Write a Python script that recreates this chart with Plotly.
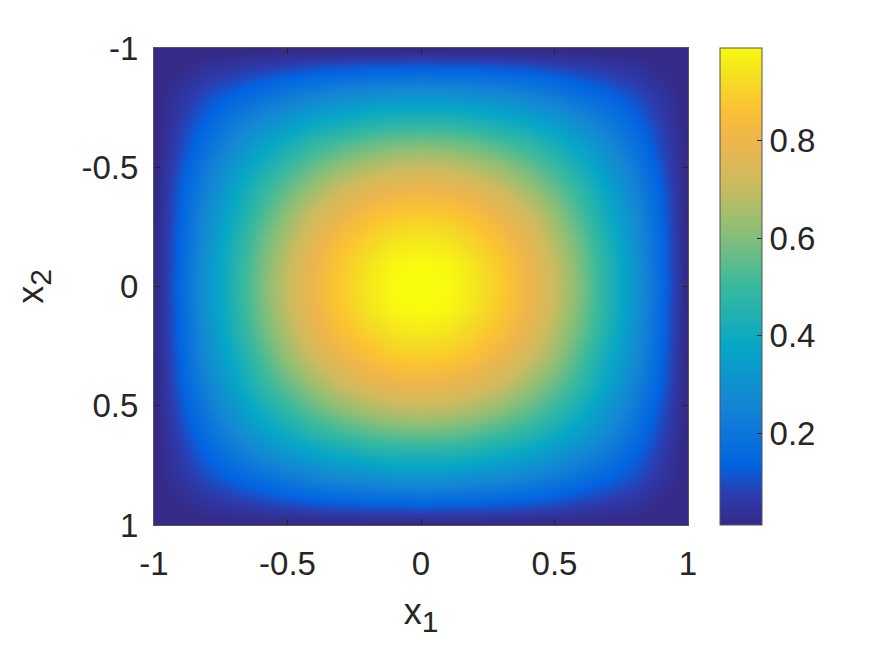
import plotly.graph_objects as go

x1_vals = [-1.0, -0.9, -0.8, -0.7, -0.6, -0.5, -0.4, -0.3, -0.2, -0.1, 0.0,
           0.1, 0.2, 0.3, 0.4, 0.5, 0.6, 0.7, 0.8, 0.9, 1.0]
x2_vals = [-1.0, -0.9, -0.8, -0.7, -0.6, -0.5, -0.4, -0.3, -0.2, -0.1, 0.0,
           0.1, 0.2, 0.3, 0.4, 0.5, 0.6, 0.7, 0.8, 0.9, 1.0]

# values (rows: x2, columns: x1)
z_vals = [
    [0,0,0,0,0,0,0,0,0,0,0,0,0,0,0,0,0,0,0,0,0],
    [0,0.02,0.05,0.07,0.09,0.11,0.13,0.14,0.15,0.15,0.16,0.15,0.15,0.14,0.13,0.11,0.09,0.07,0.05,0.02,0],
    [0,0.05,0.10,0.14,0.18,0.22,0.25,0.28,0.29,0.31,0.31,0.31,0.29,0.28,0.25,0.22,0.18,0.14,0.10,0.05,0],
    [0,0.07,0.14,0.21,0.27,0.32,0.37,0.40,0.43,0.45,0.45,0.45,0.43,0.40,0.37,0.32,0.27,0.21,0.14,0.07,0],
    [0,0.09,0.18,0.27,0.35,0.42,0.48,0.52,0.56,0.58,0.59,0.58,0.56,0.52,0.48,0.42,0.35,0.27,0.18,0.09,0],
    [0,0.11,0.22,0.32,0.42,0.50,0.57,0.63,0.67,0.70,0.71,0.70,0.67,0.63,0.57,0.50,0.42,0.32,0.22,0.11,0],
    [0,0.13,0.25,0.37,0.48,0.57,0.65,0.72,0.77,0.80,0.81,0.80,0.77,0.72,0.65,0.57,0.48,0.37,0.25,0.13,0],
    [0,0.14,0.28,0.40,0.52,0.63,0.72,0.79,0.85,0.88,0.89,0.88,0.85,0.79,0.72,0.63,0.52,0.40,0.28,0.14,0],
    [0,0.15,0.29,0.43,0.56,0.67,0.77,0.85,0.90,0.94,0.95,0.94,0.90,0.85,0.77,0.67,0.56,0.43,0.29,0.15,0],
    [0,0.15,0.31,0.45,0.58,0.70,0.80,0.88,0.94,0.98,0.99,0.98,0.94,0.88,0.80,0.70,0.58,0.45,0.31,0.15,0],
    [0,0.16,0.31,0.45,0.59,0.71,0.81,0.89,0.95,0.99,1.00,0.99,0.95,0.89,0.81,0.71,0.59,0.45,0.31,0.16,0],
    [0,0.15,0.31,0.45,0.58,0.70,0.80,0.88,0.94,0.98,0.99,0.98,0.94,0.88,0.80,0.70,0.58,0.45,0.31,0.15,0],
    [0,0.15,0.29,0.43,0.56,0.67,0.77,0.85,0.90,0.94,0.95,0.94,0.90,0.85,0.77,0.67,0.56,0.43,0.29,0.15,0],
    [0,0.14,0.28,0.40,0.52,0.63,0.72,0.79,0.85,0.88,0.89,0.88,0.85,0.79,0.72,0.63,0.52,0.40,0.28,0.14,0],
    [0,0.13,0.25,0.37,0.48,0.57,0.65,0.72,0.77,0.80,0.81,0.80,0.77,0.72,0.65,0.57,0.48,0.37,0.25,0.13,0],
    [0,0.11,0.22,0.32,0.42,0.50,0.57,0.63,0.67,0.70,0.71,0.70,0.67,0.63,0.57,0.50,0.42,0.32,0.22,0.11,0],
    [0,0.09,0.18,0.27,0.35,0.42,0.48,0.52,0.56,0.58,0.59,0.58,0.56,0.52,0.48,0.42,0.35,0.27,0.18,0.09,0],
    [0,0.07,0.14,0.21,0.27,0.32,0.37,0.40,0.43,0.45,0.45,0.45,0.43,0.40,0.37,0.32,0.27,0.21,0.14,0.07,0],
    [0,0.05,0.10,0.14,0.18,0.22,0.25,0.28,0.29,0.31,0.31,0.31,0.29,0.28,0.25,0.22,0.18,0.14,0.10,0.05,0],
    [0,0.02,0.05,0.07,0.09,0.11,0.13,0.14,0.15,0.15,0.16,0.15,0.15,0.14,0.13,0.11,0.09,0.07,0.05,0.02,0],
    [0,0,0,0,0,0,0,0,0,0,0,0,0,0,0,0,0,0,0,0,0],
]

axis_ticks = [-1, -0.5, 0, 0.5, 1]
axis_ticktext = ["-1", "-0.5", "0", "0.5", "1"]
cbar_ticks = [0.2, 0.4, 0.6, 0.8]
cbar_ticktext = ["0.2", "0.4", "0.6", "0.8"]
z_min, z_max = 0.012, 0.99

parula = [
    [0.000, "#352a87"],
    [0.063, "#2c3cae"],
    [0.125, "#0363e1"],
    [0.250, "#1485d4"],
    [0.375, "#06a7c6"],
    [0.500, "#38b99e"],
    [0.625, "#92bf73"],
    [0.720, "#cfba5e"],
    [0.810, "#eeb64b"],
    [0.875, "#fcc232"],
    [0.940, "#f4df22"],
    [1.000, "#f9fb0e"],
]

font_fam = "Liberation Sans, Arial, sans-serif"
txt = "#262626"
frame = "#555555"
tick_size = 33
title_size = 36

fig = go.Figure(go.Heatmap(
    x=x1_vals, y=x2_vals, z=z_vals,
    zsmooth="best", colorscale=parula, zmin=z_min, zmax=z_max,
    colorbar=dict(
        x=(720 - 154) / (688 - 154), xanchor="left", xpad=0,
        y=0.5, yanchor="middle", ypad=0,
        len=1, lenmode="fraction", thickness=42,
        outlinewidth=1, outlinecolor=frame,
        tickvals=cbar_ticks, ticktext=cbar_ticktext,
        ticks="inside", ticklen=5, tickcolor=txt,
        tickfont=dict(size=tick_size, color=txt, family=font_fam),
    ),
))

fig.update_layout(
    width=875, height=656,
    margin=dict(l=154, r=187, t=48, b=131),
    paper_bgcolor="white", plot_bgcolor="white",
    font=dict(family=font_fam, color=txt),
    xaxis=dict(
        range=[-1, 1], tickvals=axis_ticks, ticktext=axis_ticktext,
        ticks="inside", ticklen=6, tickcolor=txt, mirror="ticks",
        showline=True, linecolor=frame, linewidth=1,
        showgrid=False, zeroline=False, ticklabelstandoff=9,
        tickfont=dict(size=tick_size, color=txt),
        title=dict(text="x<sub><span style='font-size:30px'>1</span></sub>",
                   font=dict(size=title_size, color=txt), standoff=18),
    ),
    yaxis=dict(
        range=[1, -1], tickvals=axis_ticks, ticktext=axis_ticktext,
        ticks="inside", ticklen=6, tickcolor=txt, mirror="ticks",
        showline=True, linecolor=frame, linewidth=1,
        showgrid=False, zeroline=False, ticklabelstandoff=8,
        tickfont=dict(size=tick_size, color=txt),
        title=dict(text="x<sub><span style='font-size:30px'>2</span></sub>",
                   font=dict(size=title_size, color=txt), standoff=26),
    ),
)

fig.write_html("out.html", config={"displayModeBar": False},
               post_script="document.body.style.margin='0px';")
